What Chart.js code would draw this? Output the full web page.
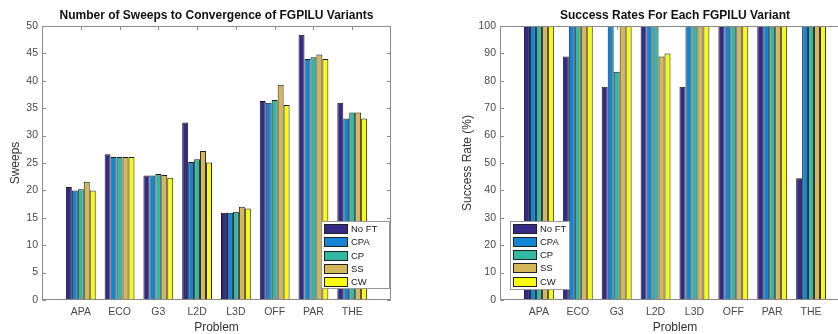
<!DOCTYPE html>
<html><head><meta charset="utf-8">
<script src="https://cdn.jsdelivr.net/npm/chart.js@4/dist/chart.umd.min.js"></script>
<style>
html,body{margin:0;padding:0;width:838px;height:334px;overflow:hidden;background:#fff;position:relative;}
#c1{position:absolute;left:0;top:0;width:433px;height:334px;}
#c2{position:absolute;left:420px;top:0;width:510px;height:334px;}
</style></head><body>
<canvas id="c1" width="433" height="334"></canvas>
<canvas id="c2" width="510" height="334"></canvas>
<script>
// ---- data ----
const problems = ['APA','ECO','G3','L2D','L3D','OFF','PAR','THE'];
const variants = ['No FT','CPA','CP','SS','CW'];
const variantColors = ['#352a87','#1484d4','#33b8a1','#d3b758','#f9fb0e'];

const sweepsNoFT = [20.6, 26.6, 22.7, 32.4, 15.9, 36.3, 48.4, 36.0];
const sweepsCPA  = [20.0, 26.1, 22.7, 25.2, 15.9, 36.0, 44.0, 33.1];
const sweepsCP   = [20.2, 26.1, 23.0, 25.7, 16.1, 36.5, 44.3, 34.2];
const sweepsSS   = [21.6, 26.1, 22.8, 27.2, 17.0, 39.3, 44.8, 34.2];
const sweepsCW   = [20.0, 26.1, 22.3, 25.1, 16.7, 35.6, 44.0, 33.1];

const rateNoFT = [100, 88.9, 77.8, 100, 77.8, 100, 100, 44.4];
const rateCPA  = [100, 100, 100, 100, 100, 100, 100, 100];
const rateCP   = [100, 100, 83.3, 100, 100, 100, 100, 100];
const rateSS   = [100, 100, 100, 88.9, 100, 100, 100, 100];
const rateCW   = [100, 100, 100, 90.0, 100, 100, 100, 100];

const sweepTicksStep = 5, sweepMax = 50;
const rateTicksStep = 10, rateMax = 100;

// ---- helpers ----
Chart.defaults.font.family = "'Liberation Sans', Arial, Helvetica, sans-serif";
const padLabels = ['', ...problems, ''];
function mkDatasets(series) {
  return series.map((vals, i) => ({
    label: variants[i],
    data: [null, ...vals, null],
    backgroundColor: variantColors[i],
    borderColor: '#1a1a1a',
    borderWidth: 1,
    borderSkipped: false,
    categoryPercentage: 0.769,
    barPercentage: 1.0
  }));
}

const matBox = {
  id: 'matBox',
  afterDraw(chart, args, opts) {
    const {ctx, chartArea: a, scales: {x, y}} = chart;
    ctx.save();
    // title centred over the axes
    ctx.font = "bold 12px 'Liberation Sans', Arial, sans-serif";
    ctx.fillStyle = '#111';
    ctx.textAlign = 'center';
    ctx.textBaseline = 'middle';
    ctx.fillText(opts.title, (a.left + a.right) / 2, 15.5);

    ctx.strokeStyle = '#8a8a8a';
    ctx.lineWidth = 1;
    const L = Math.round(a.left) + 0.5, T = Math.round(a.top) + 0.5;
    const R = Math.round(a.right) - 0.5, B = Math.round(a.bottom) - 0.5;
    ctx.strokeRect(L, T, R - L, B - T);
    const tl = 3.5;
    ctx.beginPath();
    x.ticks.forEach((t, i) => {
      if (!x.getLabelForValue(t.value)) return;
      const px = Math.round(x.getPixelForTick(i)) + 0.5;
      ctx.moveTo(px, B); ctx.lineTo(px, B - tl);
      ctx.moveTo(px, T); ctx.lineTo(px, T + tl);
    });
    y.ticks.forEach((t, i) => {
      const py = Math.round(y.getPixelForTick(i)) + 0.5;
      ctx.moveTo(L, py); ctx.lineTo(L + tl, py);
      ctx.moveTo(R, py); ctx.lineTo(R - tl, py);
    });
    ctx.stroke();

    // legend inside axes
    const lg = opts.legend;
    const bx = lg.anchor === 'right' ? a.right - lg.dx - lg.w : a.left + lg.dx;
    const by = a.bottom - lg.dy - lg.h;
    ctx.fillStyle = '#fff';
    ctx.fillRect(bx, by, lg.w, lg.h);
    ctx.strokeStyle = '#9a9a9a';
    ctx.strokeRect(Math.round(bx) + 0.5, Math.round(by) + 0.5, Math.round(lg.w), Math.round(lg.h));
    ctx.font = "9.5px 'Liberation Sans', Arial, sans-serif";
    ctx.textBaseline = 'middle';
    ctx.textAlign = 'left';
    chart.data.datasets.forEach((ds, i) => {
      const sy = Math.round(by + 2.5 + i * 13.3);
      const sx = Math.round(bx + 3);
      ctx.fillStyle = ds.backgroundColor;
      ctx.fillRect(sx, sy, 24, 10);
      ctx.strokeStyle = '#222';
      ctx.strokeRect(sx + 0.5, sy + 0.5, 23, 9);
      ctx.fillStyle = '#1a1a1a';
      ctx.fillText(ds.label, sx + 27, sy + 5.5);
    });
    ctx.restore();
  }
};

function mkChart(id, title, yTitle, series, yMax, yStep, yWidth, yTitlePad, rightPad, legendOpts) {
  return new Chart(document.getElementById(id), {
    type: 'bar',
    data: { labels: padLabels, datasets: mkDatasets(series) },
    plugins: [matBox],
    options: {
      responsive: false,
      animation: false,
      layout: { padding: { left: 0, right: rightPad, top: 26, bottom: 0 } },
      plugins: {
        legend: { display: false },
        tooltip: { enabled: false },
        title: { display: false },
        matBox: { title: title, legend: legendOpts }
      },
      scales: {
        x: {
          type: 'category',
          offset: false,
          grid: { display: false, drawTicks: false },
          border: { display: false },
          ticks: { autoSkip: false, maxRotation: 0, color: '#4a4a4a', font: { size: 10.5 }, padding: 6 },
          title: { display: true, text: 'Problem', color: '#333', font: { size: 12, lineHeight: 1 }, padding: { top: 0, bottom: 0.5 } },
          afterFit(s) { s.height = 34; }
        },
        y: {
          min: 0, max: yMax,
          grid: { display: false, drawTicks: false },
          border: { display: false },
          ticks: { stepSize: yStep, color: '#4a4a4a', font: { size: 10.5 }, padding: 4 },
          title: { display: true, text: yTitle, color: '#333', font: { size: 12, lineHeight: 1 }, padding: { top: yTitlePad, bottom: 0 } },
          afterFit(s) { s.width = yWidth; }
        }
      }
    }
  });
}

mkChart('c1', 'Number of Sweeps to Convergence of FGPILU Variants', 'Sweeps',
  [sweepsNoFT, sweepsCPA, sweepsCP, sweepsSS, sweepsCW], sweepMax, sweepTicksStep, 42, 10, 42,
  { anchor: 'right', dx: 2, dy: 12, w: 68, h: 66.6 });

mkChart('c2', 'Success Rates For Each FGPILU Variant', 'Success Rate (%)',
  [rateNoFT, rateCPA, rateCP, rateSS, rateCW], rateMax, rateTicksStep, 80, 42, 80,
  { anchor: 'left', dx: 10, dy: 11, w: 59, h: 68 });
</script>
</body></html>
